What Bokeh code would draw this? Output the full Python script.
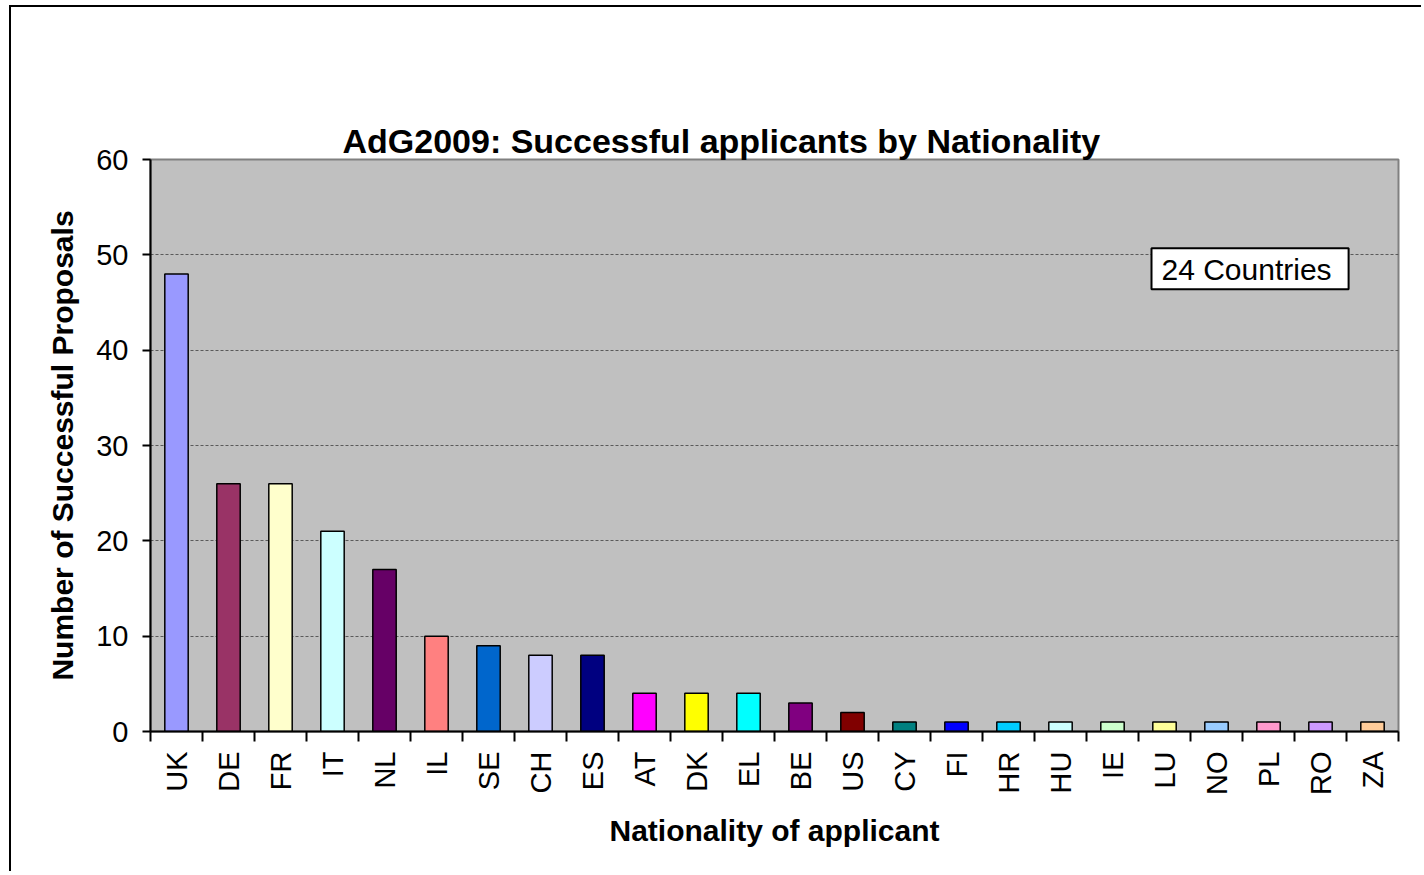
from bokeh.plotting import figure
from bokeh.models import FixedTicker, Label, Range1d, ColumnDataSource, Title
from bokeh.embed import file_html
from bokeh.resources import INLINE
import math

countries = ["UK", "DE", "FR", "IT", "NL", "IL", "SE", "CH", "ES", "AT", "DK", "EL",
             "BE", "US", "CY", "FI", "HR", "HU", "IE", "LU", "NO", "PL", "RO", "ZA"]
proposals = [48, 26, 26, 21, 17, 10, 9, 8, 8, 4, 4, 4, 3, 2, 1, 1, 1, 1, 1, 1, 1, 1, 1, 1]
colors = ["#9999FF", "#993366", "#FFFFCC", "#CCFFFF", "#660066", "#FF8080", "#0066CC",
          "#CCCCFF", "#000080", "#FF00FF", "#FFFF00", "#00FFFF", "#800080", "#800000",
          "#008080", "#0000FF", "#00CCFF", "#CCFFFF", "#CCFFCC", "#FFFF99", "#99CCFF",
          "#FF99CC", "#CC99FF", "#FFCC99"]
y_ticks = [0, 10, 20, 30, 40, 50, 60]
title_text = "AdG2009:  Successful applicants by Nationality"
note_text = "24 Countries"

FONT = "Liberation Sans"
W, H = 1412, 866

idx = list(range(len(countries)))
src = ColumnDataSource(dict(x=idx, top=proposals, color=colors, name=countries))

p = figure(width=W, height=H, output_backend="svg", toolbar_location=None,
           x_range=Range1d(-0.5, len(countries) - 0.5), y_range=Range1d(0, 60),
           min_border_left=139, min_border_right=25, min_border_top=152, min_border_bottom=142)
p.styles = {"margin-left": "9px", "margin-top": "5px",
            "border-left": "2px solid black", "border-top": "2px solid black"}

# the panel added last sits nearest the frame: real title first, spacer second
main_title = Title(text=title_text, align="left", offset=192, standoff=0,
                   text_font=FONT, text_font_size="34px", text_font_style="bold",
                   text_color="black")
p.add_layout(main_title, "above")
spacer = Title(text="", text_font_size="1px", standoff=81)
p.add_layout(spacer, "above")

p.background_fill_color = "#C0C0C0"
p.border_fill_color = "white"
p.outline_line_color = "#808080"
p.outline_line_width = 2

p.vbar(x="x", top="top", width=0.45, bottom=0, source=src, fill_color="color",
       line_color="black", line_width=1.5)

# axes
xa = p.xaxis[0]
xa.ticker = FixedTicker(ticks=idx, minor_ticks=[i - 0.5 for i in range(len(countries) + 1)])
xa.major_label_overrides = {i: c for i, c in zip(idx, countries)}
xa.major_label_orientation = math.pi / 2
xa.major_tick_in = 0
xa.major_tick_out = 0
xa.minor_tick_in = 0
xa.minor_tick_out = 10
xa.minor_tick_line_width = 2
xa.minor_tick_line_color = "black"
xa.major_label_standoff = 10
xa.axis_label = "Nationality of applicant"
xa.axis_label_standoff = 16

ya = p.yaxis[0]
ya.ticker = FixedTicker(ticks=y_ticks)
ya.major_tick_in = 0
ya.major_tick_out = 8
ya.minor_tick_out = 0
ya.minor_tick_in = 0
ya.major_label_standoff = 14
ya.axis_label = "Number of Successful Proposals"
ya.axis_label_standoff = 14

for ax in (xa, ya):
    ax.axis_line_color = "black"
    ax.axis_line_width = 2
    ax.major_tick_line_color = "black"
    ax.major_tick_line_width = 2
    ax.major_label_text_font = FONT
    ax.major_label_text_font_size = "29px"
    ax.major_label_text_color = "black"
    ax.axis_label_text_font = FONT
    ax.axis_label_text_font_size = "30px"
    ax.axis_label_text_font_style = "bold"
    ax.axis_label_text_color = "black"

p.xgrid.grid_line_color = None
p.ygrid.grid_line_color = "#404040"
p.ygrid.grid_line_width = 1
p.ygrid.grid_line_dash = "3 2"
p.ygrid.grid_line_alpha = 0.8

note = Label(x=18.75, y=46.4, text=note_text, text_font=FONT, text_font_size="30px",
             text_color="black", text_align="left", text_baseline="bottom",
             background_fill_color="white", border_line_color="black", border_line_width=2,
             padding=dict(left=10, right=17, top=5, bottom=3))
p.add_layout(note)

open("out.html", "w").write(file_html(p, INLINE))
